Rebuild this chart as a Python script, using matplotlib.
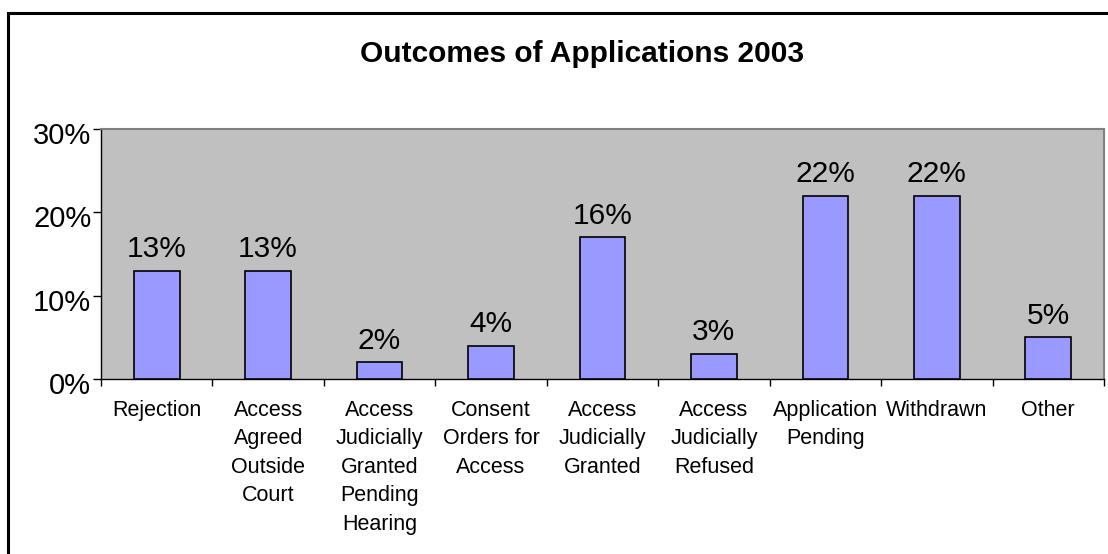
import matplotlib
matplotlib.use("Agg")
import matplotlib.pyplot as plt
import matplotlib.transforms as mtransforms
from matplotlib.patches import Rectangle
from matplotlib.ticker import FixedLocator, NullFormatter

categories = ["Rejection", "Access\nAgreed\nOutside\nCourt", "Access\nJudicially\nGranted\nPending\nHearing",
              "Consent\nOrders for\nAccess", "Access\nJudicially\nGranted", "Access\nJudicially\nRefused",
              "Application\nPending", "Withdrawn", "Other"]
values = [13, 13, 2, 4, 17, 3, 22, 22, 5]
value_labels = ["13%", "13%", "2%", "4%", "16%", "3%", "22%", "22%", "5%"]
yticks = [0, 10, 20, 30]
ytick_labels = ["0%", "10%", "20%", "30%"]
title = "Outcomes of Applications 2003"

plt.rcParams['font.family'] = ['Liberation Sans', 'DejaVu Sans']

W, H = 1108, 554
fig = plt.figure(figsize=(W / 100, H / 100), dpi=100)
fig.patch.set_facecolor("white")

# outer border
fig.add_artist(Rectangle((8 / W, -0.1), 1.2, 1 - 13 / H + 0.1, transform=fig.transFigure,
                         fill=False, edgecolor="black", linewidth=2.2))

ax = fig.add_axes([101 / W, 1 - 379 / H, (1104 - 101) / W, (379 - 129) / H])
ax.set_facecolor("#C0C0C0")
x = list(range(len(categories)))
ax.bar(x, values, width=0.41, color="#9999FF", edgecolor="black", linewidth=1.2, zorder=3)
for xi, v, lab in zip(x, values, value_labels):
    ax.text(xi, v + 0.9, lab, ha="center", va="bottom", fontsize=21.5)

ax.set_xlim(-0.5, len(categories) - 0.5)
ax.set_ylim(0, 30)
ax.set_yticks(yticks)
ax.set_yticklabels(ytick_labels, fontsize=21)
ax.tick_params(axis="y", direction="out", length=6, width=1, pad=1)
offset = mtransforms.ScaledTranslation(0, -4 / 100, fig.dpi_scale_trans)
for lbl in ax.get_yticklabels():
    lbl.set_transform(lbl.get_transform() + offset)

ax.xaxis.set_major_locator(FixedLocator([i - 0.5 for i in range(len(categories) + 1)]))
ax.xaxis.set_major_formatter(NullFormatter())
ax.xaxis.set_minor_locator(FixedLocator(x))
ax.set_xticklabels(categories, minor=True, fontsize=15.5, linespacing=1.47, va="top")
ax.tick_params(axis="x", which="major", direction="out", length=5, width=1)
ax.tick_params(axis="x", which="minor", length=0, pad=15)

for s in ["top", "right"]:
    ax.spines[s].set_color("#808080")
    ax.spines[s].set_linewidth(1.5)
for s in ["left", "bottom"]:
    ax.spines[s].set_color("black")
    ax.spines[s].set_linewidth(1)

fig.text(582 / W, 1 - 54 / H, title, ha="center", va="center", fontsize=21.5, fontweight="bold")

fig.savefig("out.png", dpi=100)
